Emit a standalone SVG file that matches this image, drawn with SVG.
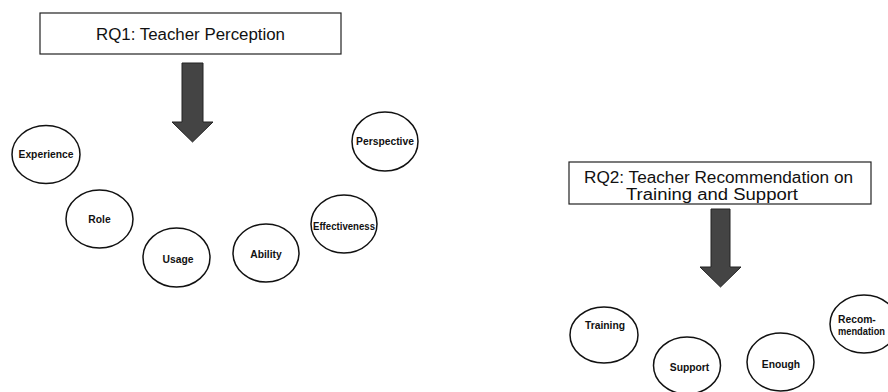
<svg xmlns="http://www.w3.org/2000/svg" width="888" height="392" viewBox="0 0 888 392">
<style>
.box{fill:#fff;stroke:#222;stroke-width:1.2}
.node{fill:#fff;stroke:#111;stroke-width:1.5}
.arrow{fill:#444;stroke:#222;stroke-width:1}
.title{font-family:"Liberation Sans",Arial,sans-serif;font-size:16px;fill:#111;text-anchor:middle}
.lbl{font-family:"Liberation Sans",Arial,sans-serif;font-size:10.3px;font-weight:bold;fill:#111;text-anchor:middle}
</style>
<rect width="888" height="392" fill="#fff"/>
<g id="rq1">
<rect class="box" x="40" y="13" width="301" height="41"/>
<text class="title" x="190.5" y="40" textLength="189" lengthAdjust="spacingAndGlyphs">RQ1: Teacher Perception</text>
</g>
<g id="rq2">
<rect class="box" x="569" y="162" width="302" height="42"/>
<text class="title" x="718.5" y="183" textLength="269" lengthAdjust="spacingAndGlyphs">RQ2: Teacher Recommendation on</text>
<text class="title" x="712" y="200" textLength="172" lengthAdjust="spacingAndGlyphs">Training and Support</text>
</g>
<g id="connectors">
<polygon class="arrow" points="182,63 203,63 203,122 213,122 192.5,142 172,122 182,122"/>
<polygon class="arrow" points="711,209 730,209 730,267 741,267 720.5,287 700,267 711,267"/>
</g>
<g id="experience"><ellipse class="node" cx="46" cy="154.5" rx="34" ry="29"/><text class="lbl" x="46" y="158">Experience</text></g>
<g id="role"><ellipse class="node" cx="99.5" cy="219" rx="33.5" ry="29"/><text class="lbl" x="99.5" y="222.5">Role</text></g>
<g id="usage"><ellipse class="node" cx="176.5" cy="257.5" rx="33.5" ry="29.5"/><text class="lbl" x="178" y="262.5">Usage</text></g>
<g id="ability"><ellipse class="node" cx="266" cy="253" rx="33" ry="29"/><text class="lbl" x="266" y="257.5">Ability</text></g>
<g id="effectiveness"><ellipse class="node" cx="344" cy="224" rx="33" ry="29"/><text class="lbl" x="344" y="229.5" textLength="62" lengthAdjust="spacingAndGlyphs">Effectiveness</text></g>
<g id="perspective"><ellipse class="node" cx="385" cy="141.5" rx="33" ry="29.5"/><text class="lbl" x="385" y="145">Perspective</text></g>
<g id="training"><ellipse class="node" cx="604" cy="335" rx="34" ry="28"/><text class="lbl" x="605" y="328.5">Training</text></g>
<g id="support"><ellipse class="node" cx="687" cy="365.5" rx="33.5" ry="28.5"/><text class="lbl" x="689.5" y="370.5">Support</text></g>
<g id="enough"><ellipse class="node" cx="780.5" cy="362" rx="33.5" ry="29"/><text class="lbl" x="781" y="367.5">Enough</text></g>
<g id="recommendation"><ellipse class="node" cx="864" cy="324" rx="34" ry="29"/><text class="lbl" x="838" y="322.5" style="text-anchor:start">Recom-</text><text class="lbl" x="838" y="334.5" style="text-anchor:start" textLength="47" lengthAdjust="spacingAndGlyphs">mendation</text></g>
</svg>
